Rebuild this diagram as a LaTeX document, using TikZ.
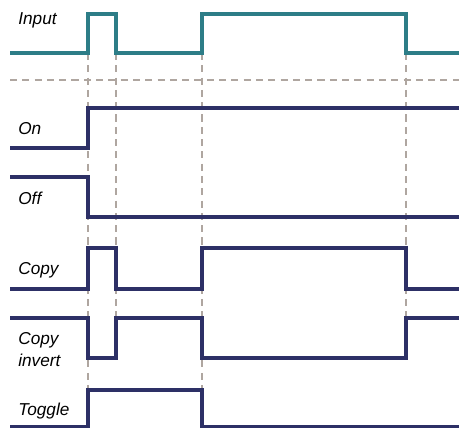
\documentclass[tikz,border=0pt]{standalone}
\usepackage{fontspec}
\setmainfont{Liberation Sans}
\definecolor{inteal}{RGB}{45,125,135}
\definecolor{outnavy}{RGB}{45,48,102}
\definecolor{gridgrey}{RGB}{175,166,160}
\begin{document}
\begin{tikzpicture}
        [x=0.02cm,y=-0.02cm,
         every node/.style={anchor=base west,inner sep=0pt,align=left,
           font=\fontsize{9.8}{12}\selectfont\itshape},
         wave/.style={line width=2.3pt,outnavy,line join=miter},
         guide/.style={gridgrey,line width=1pt,dash pattern=on 4pt off 3pt}]
        \useasboundingbox (0,0) rectangle (459,428);
        % guide lines
        \draw[guide] (10,80) -- (459,80);
        \foreach \x/\y in {88/390,116/318,202/390,406/318}
          \draw[guide] (\x,53) -- (\x,\y);
        % labels
        \node (lin)  at (18,25)  {Input};
        \node (lon)  at (18,135) {On};
        \node (loff) at (18,205) {Off};
        \node (lcp)  at (18,275) {Copy};
        \node (lci)  at (18,366) {Copy\\invert};
        \node (ltg)  at (18,415) {Toggle};
        % waveforms
        \draw[wave,inteal] (10,53) -- (88,53) -- (88,14) -- (116,14) -- (116,53)
          -- (202,53) -- (202,14) -- (406,14) -- (406,53) -- (459,53);
        \draw[wave] (10,148) -- (88,148) -- (88,108) -- (459,108);
        \draw[wave] (10,177) -- (88,177) -- (88,217) -- (459,217);
        \draw[wave] (10,289) -- (88,289) -- (88,248) -- (116,248) -- (116,289)
          -- (202,289) -- (202,248) -- (406,248) -- (406,289) -- (459,289);
        \draw[wave] (10,318) -- (88,318) -- (88,358) -- (116,358) -- (116,318)
          -- (202,318) -- (202,358) -- (406,358) -- (406,318) -- (459,318);
        \draw[wave] (10,427) -- (88,427) -- (88,390) -- (202,390) -- (202,427)
          -- (459,427);
      \end{tikzpicture}
\end{document}
